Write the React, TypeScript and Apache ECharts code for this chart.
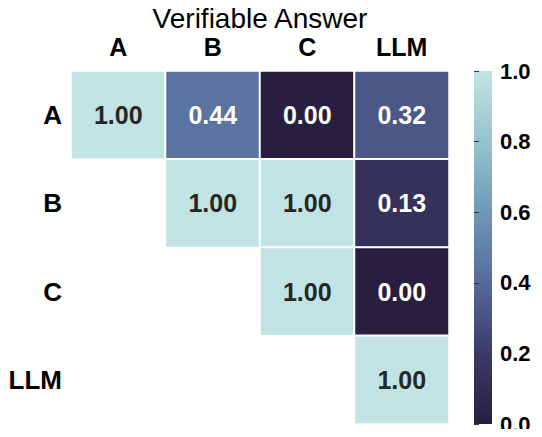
import React, { useEffect, useRef } from "react";
import * as echarts from "echarts";

// Agreement matrix (upper triangle only)
const labels = ["A", "B", "C", "LLM"];
const rowA = [1.0, 0.44, 0.0, 0.32];
const rowB = [null, 1.0, 1.0, 0.13];
const rowC = [null, null, 1.0, 0.0];
const rowLLM = [null, null, null, 1.0];
const matrix = [rowA, rowB, rowC, rowLLM];

const colorbarTicks = [0, 0.2, 0.4, 0.6, 0.8, 1.0];
const palette = ["#281f40", "#3b3a68", "#566a9b", "#6f97b7", "#97c2cd", "#c2e3e3"];

const FONT = "Liberation Sans, Arial, sans-serif";

export default function App() {
  const ref = useRef<HTMLDivElement>(null);

  useEffect(() => {
    if (!ref.current) return;
    const chart = echarts.init(ref.current, null, { renderer: "svg" });

    const data: any[] = [];
    matrix.forEach((row, r) => {
      row.forEach((v, c) => {
        if (v === null) return;
        data.push({
          value: [c, r, v],
          label: { color: v > 0.5 ? "#262626" : "#ffffff" },
        });
      });
    });

    const gridLeft = 71;
    const gridTop = 71;
    const gridW = 378;
    const gridH = 353;
    const cbLeft = 474;
    const cbW = 18;

    chart.setOption({
      animation: false,
      title: {
        text: "Verifiable Answer",
        left: gridLeft + gridW / 2,
        textAlign: "center",
        top: 7,
        padding: 0,
        textStyle: { fontFamily: FONT, fontSize: 28, lineHeight: 22, fontWeight: "normal", color: "#000" },
      },
      grid: [
        { left: gridLeft, top: gridTop, width: gridW, height: gridH },
        { left: cbLeft, top: gridTop, width: cbW, height: gridH },
      ],
      xAxis: [
        {
          type: "category",
          data: labels,
          position: "top",
          gridIndex: 0,
          axisLine: { show: false },
          axisTick: { show: false },
          axisLabel: {
            fontFamily: FONT,
            fontSize: 25,
            lineHeight: 20,
            fontWeight: "bold",
            color: "#000",
            margin: 14,
          },
        },
        {
          type: "value",
          gridIndex: 1,
          show: false,
          min: 0,
          max: 1,
        },
      ],
      yAxis: [
        {
          type: "category",
          data: labels,
          inverse: true,
          gridIndex: 0,
          axisLine: { show: false },
          axisTick: { show: false },
          axisLabel: { fontFamily: FONT, fontSize: 26, fontWeight: "bold", color: "#000", margin: 9 },
        },
        {
          type: "value",
          gridIndex: 1,
          position: "right",
          min: 0,
          max: 1,
          interval: 0.2,
          axisLine: { show: false },
          axisTick: { show: true, length: 5, lineStyle: { color: "#333", width: 1 } },
          splitLine: { show: false },
          axisLabel: {
            fontFamily: FONT,
            fontSize: 22,
            fontWeight: "bold",
            color: "#000",
            margin: 8,
            formatter: (v: number) => v.toFixed(1),
          },
        },
      ],
      visualMap: {
        show: false,
        min: 0,
        max: 1,
        dimension: 2,
        seriesIndex: 0,
        inRange: { color: palette },
      },
      graphic: [
        {
          type: "rect",
          z: 0,
          shape: { x: cbLeft, y: gridTop, width: cbW, height: gridH },
          style: {
            fill: new echarts.graphic.LinearGradient(
              0,
              1,
              0,
              0,
              palette.map((c, i) => ({ offset: colorbarTicks[i], color: c }))
            ),
          },
        },
      ],
      series: [
        {
          type: "heatmap",
          xAxisIndex: 0,
          yAxisIndex: 0,
          data,
          itemStyle: { borderColor: "#ffffff", borderWidth: 2 },
          label: {
            show: true,
            fontFamily: FONT,
            fontSize: 25,
            fontWeight: "bold",
            formatter: (p: any) => Number(p.value[2]).toFixed(2),
          },
          emphasis: { disabled: true },
        },
      ],
    });

    return () => chart.dispose();
  }, []);

  return <div ref={ref} style={{ width: 542, height: 437, margin: -8 }} />;
}
